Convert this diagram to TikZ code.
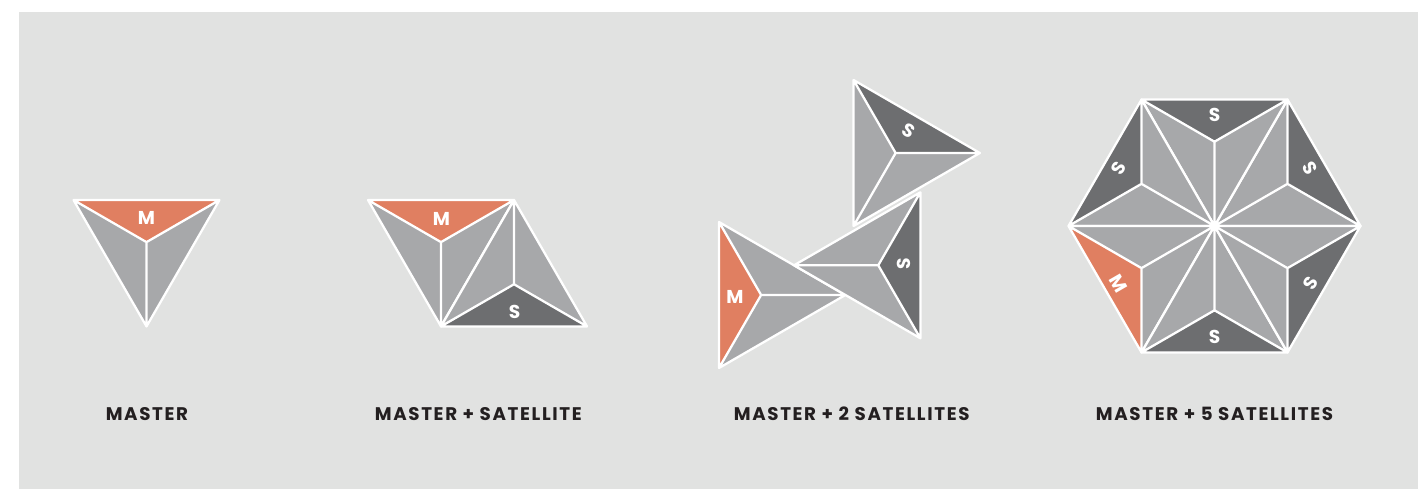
\documentclass[tikz,border=0pt]{standalone}
\usepackage{fontspec}
\newfontfamily\labfont[LetterSpace=9]{Poppins}
\definecolor{bgc}{HTML}{E1E2E1}
\definecolor{facegray}{HTML}{A7A8AA}
\definecolor{facedark}{HTML}{6D6E70}
\definecolor{faceorange}{HTML}{E07F61}
\definecolor{txt}{HTML}{231F20}
\tikzset{
  edgeline/.style={draw=white, line width=1.3pt, line join=round},
  caption/.style={font=\labfont\bfseries\fontsize{10.4}{12}\selectfont, text=txt, inner sep=0pt},
  facelabel/.style={font=\labfont\bfseries\fontsize{10.6}{12}\selectfont, text=white, inner sep=0pt},
}
% #1 prefix, #2 #3 #4 vertex names, #5 #6 #7 fill colours of faces (#2,#3), (#3,#4), (#4,#2)
\newcommand\tetrahed[7]{%
  \coordinate (#1o) at (barycentric cs:#2=1,#3=1,#4=1);
  \fill[#5] (#2) -- (#3) -- (#1o) -- cycle;
  \fill[#6] (#3) -- (#4) -- (#1o) -- cycle;
  \fill[#7] (#4) -- (#2) -- (#1o) -- cycle;
  \draw[edgeline] (#2) -- (#3) -- (#4) -- cycle (#1o) -- (#2) (#1o) -- (#3) (#1o) -- (#4);
}
\begin{document}
\begin{tikzpicture}[x=0.02cm, y=-0.02cm]
\useasboundingbox (0,0) rectangle (1426,489);
\fill[bgc] (19,12) rectangle (1418,489);

% ---- Figure 1: master
\coordinate (a1) at (73.5,200);
\coordinate (a2) at (219.5,200);
\coordinate (a3) at (146.5,326.4);
\tetrahed{fa}{a1}{a2}{a3}{faceorange}{facegray}{facegray}
\node[facelabel] (lm1) at (146.5,218) {M};

% ---- Figure 2: master + satellite
\coordinate (b1) at (368,200);
\coordinate (b2) at (514,200);
\coordinate (b3) at (441,326.4);
\coordinate (b4) at (587,326.4);
\tetrahed{fb}{b1}{b2}{b3}{faceorange}{facegray}{facegray}
\tetrahed{fc}{b2}{b3}{b4}{facegray}{facedark}{facegray}
\node[facelabel] (lm2) at (441.5,219) {M};
\node[facelabel] (ls2) at (514.5,312) {S};

% ---- Figure 3: master + 2 satellites
\coordinate (c1) at (719,222);
\coordinate (c2) at (719,368);
\coordinate (c3) at (845.4,295);
\tetrahed{fd}{c1}{c2}{c3}{faceorange}{facegray}{facegray}
\coordinate (d1) at (920.4,192.3);
\coordinate (d2) at (920.4,338.3);
\coordinate (d3) at (794,265.3);
\tetrahed{fe}{d1}{d2}{d3}{facedark}{facegray}{facegray}
\coordinate (e1) at (853.5,80);
\coordinate (e2) at (979.9,153);
\coordinate (e3) at (853.5,226);
\tetrahed{ff}{e1}{e2}{e3}{facedark}{facegray}{facegray}
\node[facelabel] (lm3) at (735,296.5) {M};
\node[facelabel, rotate=90] (ls3a) at (904,264) {S};
\node[facelabel, rotate=-30] (ls3b) at (908.5,131) {S};

% ---- Figure 4: master + 5 satellites
\coordinate (z) at (1214.5,226);
\coordinate (h0) at (1360.5,226);
\coordinate (h1) at (1287.5,99.56);
\coordinate (h2) at (1141.5,99.56);
\coordinate (h3) at (1068.5,226);
\coordinate (h4) at (1141.5,352.44);
\coordinate (h5) at (1287.5,352.44);
\tetrahed{g0}{h0}{h1}{z}{facedark}{facegray}{facegray}
\tetrahed{g1}{h1}{h2}{z}{facedark}{facegray}{facegray}
\tetrahed{g2}{h2}{h3}{z}{facedark}{facegray}{facegray}
\tetrahed{g3}{h3}{h4}{z}{faceorange}{facegray}{facegray}
\tetrahed{g4}{h4}{h5}{z}{facedark}{facegray}{facegray}
\tetrahed{g5}{h5}{h0}{z}{facedark}{facegray}{facegray}
\node[facelabel] (ls4a) at (1214.5,115) {S};
\node[facelabel] (ls4b) at (1214.5,337) {S};
\node[facelabel, rotate=60] (ls4c) at (1118.5,168.5) {S};
\node[facelabel, rotate=-60] (ls4d) at (1310.5,168.5) {S};
\node[facelabel, rotate=60] (ls4e) at (1310.5,283.5) {S};
\node[facelabel, rotate=-60] (lm4) at (1118.5,283.5) {M};

% ---- captions
\node[caption] (t1) at (146.9,413.8) {MASTER};
\node[caption] (t2) at (478.3,413.8) {MASTER + SATELLITE};
\node[caption] (t3) at (851.7,413.8) {MASTER + 2 SATELLITES};
\node[caption] (t4) at (1214.5,413.8) {MASTER + 5 SATELLITES};
\end{tikzpicture}
\end{document}
